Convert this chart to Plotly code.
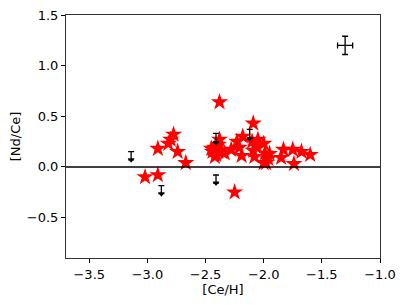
import plotly.graph_objects as go

# [Ce/H] vs [Nd/Ce] detections (red stars)
ce_h = [-3.02, -2.91, -2.91, -2.82, -2.80, -2.775, -2.74, -2.67,
        -2.38, -2.44, -2.42, -2.41, -2.39, -2.38, -2.36, -2.335, -2.42, -2.45, -2.40,
        -2.25, -2.28, -2.23, -2.21, -2.19, -2.18, -2.09, -2.10, -2.09, -2.08,
        -2.06, -2.05, -2.00, -1.99, -1.96, -1.95, -1.98, -2.00,
        -1.85, -1.83, -1.75, -1.74, -1.675, -1.60]
nd_ce = [-0.10, -0.08, 0.18, 0.23, 0.27, 0.32, 0.15, 0.04,
         0.64, 0.15, 0.19, 0.12, 0.22, 0.27, 0.15, 0.135, 0.10, 0.18, 0.16,
         -0.25, 0.17, 0.25, 0.19, 0.11, 0.30, 0.43, 0.25, 0.16, 0.10,
         0.20, 0.27, 0.23, 0.135, 0.08, 0.13, 0.04, 0.04,
         0.09, 0.17, 0.17, 0.03, 0.15, 0.12]

# upper limits (arrow tip value and bar length)
lim_x = [-3.14, -2.88, -2.41, -2.41, -2.12]
lim_y = [0.07, -0.265, 0.24, -0.16, 0.28]
lim_len = [0.08, 0.08, 0.09, 0.08, 0.09]

# typical error bar
err_x, err_y = [-1.3], [1.2]
err_dx, err_dy = [0.065], [0.09]

fig = go.Figure()

fig.add_hline(y=0, line=dict(color='black', width=1.5))

fig.add_trace(go.Scatter(
    x=ce_h, y=nd_ce, mode='markers',
    marker=dict(symbol='star', size=13, color='#ff0000', line=dict(width=0)),
    showlegend=False))

fig.add_trace(go.Scatter(
    x=lim_x, y=lim_y, mode='markers',
    marker=dict(symbol='triangle-down', size=6, color='black'),
    error_y=dict(type='data', array=lim_len, arrayminus=[0] * len(lim_len),
                 symmetric=False, color='black', thickness=1.3, width=3),
    showlegend=False))

fig.add_trace(go.Scatter(
    x=err_x, y=err_y, mode='markers',
    marker=dict(size=1, color='black'),
    error_x=dict(type='data', array=err_dx, color='black', thickness=1.3, width=3),
    error_y=dict(type='data', array=err_dy, color='black', thickness=1.3, width=3),
    showlegend=False))

axis_style = dict(showline=True, linecolor='#333333', linewidth=1, mirror=True,
                  ticks='outside', ticklen=4, tickcolor='black', showgrid=False,
                  zeroline=False, automargin=False, ticklabeloverflow='allow',
                  tickfont=dict(size=13, color='black'))

fig.update_xaxes(range=[-3.7, -1.0], tickvals=[-3.5, -3.0, -2.5, -2.0, -1.5, -1.0],
                 tickformat='.1f', title=dict(text='[Ce/H]', standoff=3,
                 font=dict(size=13, color='black')), **axis_style)
fig.update_yaxes(range=[-0.9, 1.5], tickvals=[-0.5, 0.0, 0.5, 1.0, 1.5],
                 tickformat='.1f', title=dict(text='[Nd/Ce]', standoff=6,
                 font=dict(size=13, color='black')), **axis_style)

# page body adds an 8px offset, so the margins are shifted to compensate
fig.update_layout(
    width=407, height=305,
    margin=dict(l=58, r=35, t=7, b=55),
    plot_bgcolor='white', paper_bgcolor='white',
    font=dict(family='DejaVu Sans', color='black'),
)

fig.write_html("out.html")
